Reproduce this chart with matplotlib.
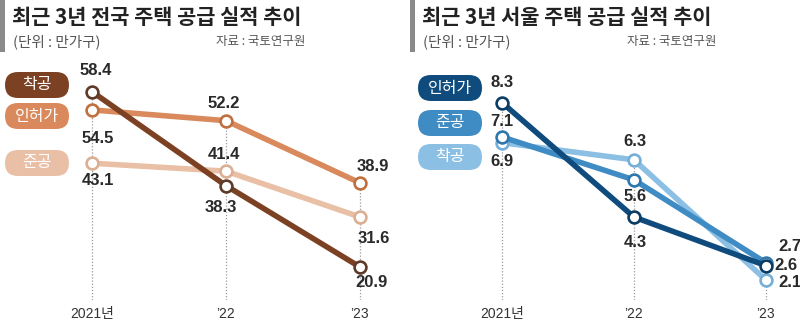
import matplotlib
matplotlib.use('Agg')
import matplotlib.pyplot as plt
from matplotlib.patches import FancyBboxPatch, Rectangle

plt.rcParams['font.family'] = ['Liberation Sans', 'Noto Sans CJK KR']
KR = ['Noto Sans CJK KR', 'DejaVu Sans']

# ---- data (만가구) ----
years = ['2021년', '’22', '’23']

nat_series = ['착공', '인허가', '준공']
nat_start = [58.4, 38.3, 20.9]      # 착공
nat_permit = [54.5, 52.2, 38.9]     # 인허가
nat_done = [43.1, 41.4, 31.6]       # 준공

seoul_series = ['인허가', '준공', '착공']
seoul_permit = [8.3, 4.3, 2.6]      # 인허가
seoul_done = [7.1, 5.6, 2.7]        # 준공
seoul_start = [6.9, 6.3, 2.1]       # 착공

titles = ['최근 3년 전국 주택 공급 실적 추이', '최근 3년 서울 주택 공급 실적 추이']
unit = '(단위 : 만가구)'
source = '자료 : 국토연구원'

# ---- styles ----
brown = {'착공': '#7c4122', '인허가': '#d9895c', '준공': '#e9c0a6'}
brown_edge = {'착공': '#5e3a28', '인허가': '#c0703f', '준공': '#dcae92'}
blue = {'인허가': '#0f4c7d', '준공': '#3f8bc3', '착공': '#8bbfe3'}
blue_edge = {'인허가': '#0b3c63', '준공': '#2f78ad', '착공': '#75afd8'}

fig = plt.figure(figsize=(8, 3.25), dpi=100)


def px_axes(x0, x1, y0, y1):
    return fig.add_axes([x0 / 800, 1 - y1 / 325, (x1 - x0) / 800, (y1 - y0) / 325])


def draw_panel(ax, data, colors, edges, offsets, xlim, ylim):
    x = range(len(years))
    top = [max(vals[i] for _, vals in data) for i in x]
    ax.vlines(x, ylim[0], top, colors='#9a9a9a', linestyles=(0, (1, 1.5)),
              linewidth=0.9, zorder=1)
    for (name, vals), offs in zip(data, offsets):
        ax.plot(x, vals, color=colors[name], lw=4, solid_capstyle='round',
                marker='o', ms=8.5, mfc='white', mec=edges[name], mew=1.9,
                zorder=3)
        for i, v in enumerate(vals):
            dx, dy = offs[i]
            ax.annotate(f'{v:.1f}', (i, v), xytext=(dx, -dy),
                        textcoords='offset pixels', ha='center', va='center',
                        fontsize=12, fontweight='bold', color='#2a2a2a',
                        zorder=5)
    ax.set_xlim(*xlim)
    ax.set_ylim(*ylim)
    ax.set_xticks(list(x))
    ax.set_xticklabels(years, fontsize=10, color='#333333')
    ax.tick_params(axis='x', length=0, pad=5)
    ax.set_yticks([])
    for s in ax.spines.values():
        s.set_visible(False)
    ax.patch.set_alpha(0)


# left panel: national
axL = px_axes(0, 400, 60, 300)
nat_data = [('준공', nat_done), ('인허가', nat_permit), ('착공', nat_start)]
nat_offs = [[(6, 17), (-2, -17), (14, 22)],
            [(6, 29), (-2, -17), (13, -16)],
            [(4, -21), (-5, 22), (12, 16)]]
draw_panel(axL, nat_data, brown, brown_edge, nat_offs, (-0.687, 2.299), (13.84, 65.18))

# right panel: Seoul
axR = px_axes(400, 800, 60, 300)
seoul_data = [('착공', seoul_start), ('준공', seoul_done), ('인허가', seoul_permit)]
seoul_offs = [[(0, 19), (1, -18), (24, 3)],
              [(0, -15), (1, 17), (24, -16)],
              [(0, -20), (1, 25), (20, 0)]]
draw_panel(axR, seoul_data, blue, blue_edge, seoul_offs, (-0.773, 2.258), (1.40, 9.79))

# overlay for titles, bars and legend pills (pixel coords)
ov = fig.add_axes([0, 0, 1, 1])
ov.set_xlim(0, 800)
ov.set_ylim(325, 0)
ov.axis('off')

for x0, title, src_x in [(0, titles[0], 216), (410, titles[1], 627)]:
    ov.add_patch(Rectangle((x0, 0), 5, 52, color='#8a8a8a', lw=0))
    ov.text(x0 + 12, 17, title, family=KR, fontsize=15, fontweight='bold',
            color='#222222', ha='left', va='center')
    ov.text(x0 + 13, 42, unit, family=KR, fontsize=10.5, color='#555555',
            ha='left', va='center')
    ov.text(src_x, 42, source, family=KR, fontsize=9, color='#555555',
            ha='left', va='center')

pills = [(5, 72, '착공', brown), (5, 103, '인허가', brown), (5, 150, '준공', brown),
         (418, 75, '인허가', blue), (418, 110, '준공', blue), (418, 144, '착공', blue)]
for x0, y0, name, cmap in pills:
    w, h = 64, 26
    ov.add_patch(FancyBboxPatch((x0, y0), w, h,
                                boxstyle='round,pad=0,rounding_size=13',
                                fc=cmap[name], ec='none'))
    ov.text(x0 + w / 2, y0 + h / 2, name, family=KR, fontsize=11.5, color='white',
            ha='center', va='center')

fig.savefig('out.png', dpi=100)
